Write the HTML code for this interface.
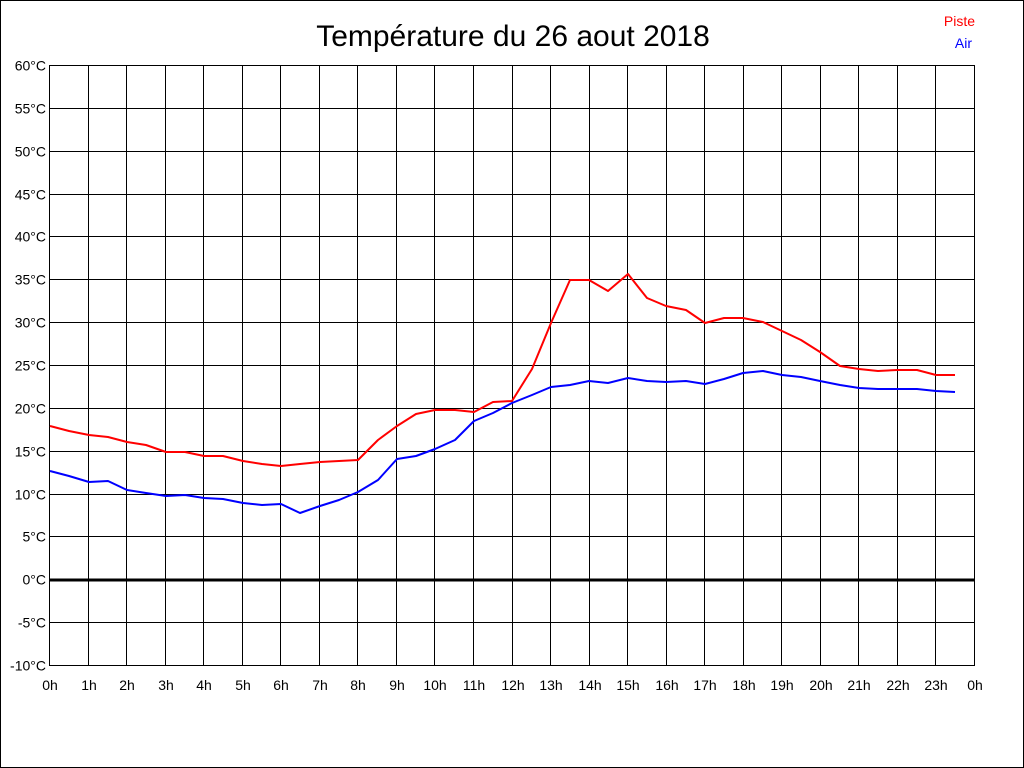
<!DOCTYPE html>
<html><head><meta charset="utf-8"><style>
html,body{margin:0;padding:0;background:#fff}
svg{display:block}
text{font-family:"Liberation Sans",Arial,sans-serif}
</style></head><body>
<svg id="s" width="1024" height="768" xmlns="http://www.w3.org/2000/svg">
<rect x="0.5" y="0.5" width="1023" height="767" fill="#fff" stroke="#000"/>
<text x="513" y="46" font-size="30" text-anchor="middle">Température du 26 aout 2018</text>
<text x="975" y="26" font-size="14" fill="#f00" text-anchor="end">Piste</text>
<text x="972" y="48" font-size="14" fill="#00f" text-anchor="end">Air</text>
<g id="g"></g>
<polyline fill="none" stroke="#f00" stroke-width="2" stroke-linejoin="round" points="50,426 69,431 89,435 108,437 127,442 146,445 166,452 185,452 204,456 223,456 243,461 262,464 281,466 300,464 320,462 339,461 358,460 378,440 397,426 416,414 435,410 455,410 474,412 493,402 512,401 532,369 551,323 570,280 589,280 608,291 628,274 647,298 666,306 686,310 705,323 724,318 743,318 763,322 782,331 801,340 820,352 840,366 859,369 878,371 897,370 917,370 936,375 955,375"/>
<polyline fill="none" stroke="#00f" stroke-width="2" stroke-linejoin="round" points="50,471 69,476 89,482 108,481 127,490 146,493 166,496 185,495 204,498 223,499 243,503 262,505 281,504 300,513 320,506 339,500 358,492 378,480 397,459 416,456 435,449 455,440 474,421 493,413 512,403 532,395 551,387 570,385 589,381 608,383 628,378 647,381 666,382 686,381 705,384 724,379 743,373 763,371 782,375 801,377 820,381 840,385 859,388 878,389 897,389 917,389 936,391 955,392"/>
</svg>
<script>
var g=document.getElementById('g'),h='';
for(var i=0;i<=24;i++){var x=Math.round(50+i*925/24)-0.5;
h+='<line x1="'+x+'" y1="66" x2="'+x+'" y2="666" stroke="#000"/>';
h+='<text x="'+(x+0.5)+'" y="690" font-size="14" text-anchor="middle">'+(i%24)+'h</text>';}
for(var j=0;j<=14;j++){var v=60-5*j,y=Math.round(66+j*600/14)-0.5;
if(v===0){h+='<line x1="49" y1="'+(y+0.5)+'" x2="975" y2="'+(y+0.5)+'" stroke="#000" stroke-width="3"/>';}
else h+='<line x1="49" y1="'+y+'" x2="975" y2="'+y+'" stroke="#000"/>';
h+='<text x="46" y="'+(y+5)+'" font-size="14" text-anchor="end">'+v+'°C</text>';}
g.innerHTML=h;
</script>
</body></html>
